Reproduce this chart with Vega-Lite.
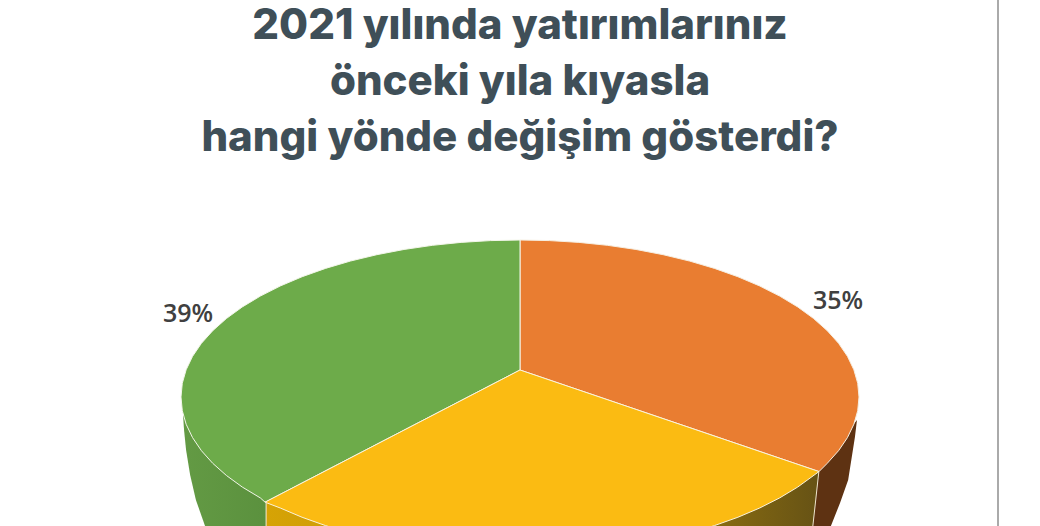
{
"$schema":"https://vega.github.io/schema/vega-lite/v6.json",
"width":1040,"height":526,"padding":0,"autosize":{"type":"none"},
"background":"#ffffff",
"view":{"stroke":null},
"title":{"text":["2021 yılında yatırımlarınız","önceki yıla kıyasla","hangi yönde değişim gösterdi?"],"font":"Inter","fontWeight":800,"fontSize":42,"lineHeight":56,"color":"#3f4f58","anchor":"middle","offset":-161,"baseline":"top"},
"datasets":{
"slices":[
{"part":"orange","i":0,"x":0,"y":0.172},{"part":"orange","i":1,"x":0,"y":1},{"part":"orange","i":2,"x":0.0872,"y":0.9962},{"part":"orange","i":3,"x":0.1736,"y":0.9848},{"part":"orange","i":4,"x":0.2588,"y":0.9659},{"part":"orange","i":5,"x":0.342,"y":0.9397},{"part":"orange","i":6,"x":0.4226,"y":0.9063},{"part":"orange","i":7,"x":0.5,"y":0.866},{"part":"orange","i":8,"x":0.5736,"y":0.8192},{"part":"orange","i":9,"x":0.6428,"y":0.766},{"part":"orange","i":10,"x":0.7071,"y":0.7071},{"part":"orange","i":11,"x":0.766,"y":0.6428},{"part":"orange","i":12,"x":0.8192,"y":0.5736},{"part":"orange","i":13,"x":0.866,"y":0.5},{"part":"orange","i":14,"x":0.9063,"y":0.4226},{"part":"orange","i":15,"x":0.9397,"y":0.342},{"part":"orange","i":16,"x":0.9659,"y":0.2588},{"part":"orange","i":17,"x":0.9848,"y":0.1736},{"part":"orange","i":18,"x":0.9962,"y":0.0872},{"part":"orange","i":19,"x":1,"y":0},{"part":"orange","i":20,"x":0.9962,"y":-0.0872},{"part":"orange","i":21,"x":0.9848,"y":-0.1736},{"part":"orange","i":22,"x":0.9659,"y":-0.2588},{"part":"orange","i":23,"x":0.9397,"y":-0.342},{"part":"orange","i":24,"x":0.9063,"y":-0.4226},{"part":"orange","i":25,"x":0.882,"y":-0.475},{"part":"orange","i":26,"x":0,"y":0.172},
{"part":"green","i":0,"x":0,"y":0.172},{"part":"green","i":1,"x":0,"y":1},{"part":"green","i":2,"x":-0.0872,"y":0.9962},{"part":"green","i":3,"x":-0.1736,"y":0.9848},{"part":"green","i":4,"x":-0.2588,"y":0.9659},{"part":"green","i":5,"x":-0.342,"y":0.9397},{"part":"green","i":6,"x":-0.4226,"y":0.9063},{"part":"green","i":7,"x":-0.5,"y":0.866},{"part":"green","i":8,"x":-0.5736,"y":0.8192},{"part":"green","i":9,"x":-0.6428,"y":0.766},{"part":"green","i":10,"x":-0.7071,"y":0.7071},{"part":"green","i":11,"x":-0.766,"y":0.6428},{"part":"green","i":12,"x":-0.8192,"y":0.5736},{"part":"green","i":13,"x":-0.866,"y":0.5},{"part":"green","i":14,"x":-0.9063,"y":0.4226},{"part":"green","i":15,"x":-0.9397,"y":0.342},{"part":"green","i":16,"x":-0.9659,"y":0.2588},{"part":"green","i":17,"x":-0.9848,"y":0.1736},{"part":"green","i":18,"x":-0.9962,"y":0.0872},{"part":"green","i":19,"x":-1,"y":0},{"part":"green","i":20,"x":-0.9962,"y":-0.0872},{"part":"green","i":21,"x":-0.9848,"y":-0.1736},{"part":"green","i":22,"x":-0.9659,"y":-0.2588},{"part":"green","i":23,"x":-0.9397,"y":-0.342},{"part":"green","i":24,"x":-0.9063,"y":-0.4226},{"part":"green","i":25,"x":-0.866,"y":-0.5},{"part":"green","i":26,"x":-0.8192,"y":-0.5736},{"part":"green","i":27,"x":-0.766,"y":-0.6428},{"part":"green","i":28,"x":-0.752,"y":-0.67},{"part":"green","i":29,"x":0,"y":0.172},
{"part":"yellow","i":0,"x":0,"y":0.172},{"part":"yellow","i":1,"x":0.882,"y":-0.475},{"part":"yellow","i":2,"x":0.8192,"y":-0.5736},{"part":"yellow","i":3,"x":0.766,"y":-0.6428},{"part":"yellow","i":4,"x":0.7071,"y":-0.7071},{"part":"yellow","i":5,"x":0.6428,"y":-0.766},{"part":"yellow","i":6,"x":0.5736,"y":-0.8192},{"part":"yellow","i":7,"x":0.5,"y":-0.866},{"part":"yellow","i":8,"x":0.4226,"y":-0.9063},{"part":"yellow","i":9,"x":0.342,"y":-0.9397},{"part":"yellow","i":10,"x":0.2588,"y":-0.9659},{"part":"yellow","i":11,"x":0.1736,"y":-0.9848},{"part":"yellow","i":12,"x":0.0872,"y":-0.9962},{"part":"yellow","i":13,"x":0,"y":-1},{"part":"yellow","i":14,"x":-0.0872,"y":-0.9962},{"part":"yellow","i":15,"x":-0.1736,"y":-0.9848},{"part":"yellow","i":16,"x":-0.2588,"y":-0.9659},{"part":"yellow","i":17,"x":-0.342,"y":-0.9397},{"part":"yellow","i":18,"x":-0.4226,"y":-0.9063},{"part":"yellow","i":19,"x":-0.5,"y":-0.866},{"part":"yellow","i":20,"x":-0.5736,"y":-0.8192},{"part":"yellow","i":21,"x":-0.6428,"y":-0.766},{"part":"yellow","i":22,"x":-0.7071,"y":-0.7071},{"part":"yellow","i":23,"x":-0.752,"y":-0.67},{"part":"yellow","i":24,"x":0,"y":0.172}
],
"sides":[
{"part":"green","i":0,"x":-0.994,"y":-0.115},{"part":"green","i":1,"x":-0.991,"y":-0.21},{"part":"green","i":2,"x":-0.985,"y":-0.338},{"part":"green","i":3,"x":-0.973,"y":-0.497},{"part":"green","i":4,"x":-0.956,"y":-0.656},{"part":"green","i":5,"x":-0.929,"y":-0.822},{"part":"green","i":6,"x":-0.9,"y":-0.943},{"part":"green","i":7,"x":-0.749,"y":-1.134},{"part":"green","i":8,"x":-0.749,"y":-0.529},
{"part":"orange","i":0,"x":0.994,"y":-0.146},{"part":"orange","i":1,"x":0.988,"y":-0.255},{"part":"orange","i":2,"x":0.968,"y":-0.529},{"part":"orange","i":3,"x":0.944,"y":-0.675},{"part":"orange","i":4,"x":0.917,"y":-0.822},{"part":"orange","i":5,"x":0.885,"y":-0.943},{"part":"orange","i":6,"x":0.848,"y":-1.134},{"part":"orange","i":7,"x":0.879,"y":-0.465},
{"part":"yellow","i":0,"x":-0.749,"y":-0.529},{"part":"yellow","i":1,"x":-0.749,"y":-1.134},{"part":"yellow","i":2,"x":0.848,"y":-1.134},{"part":"yellow","i":3,"x":0.882,"y":-0.465},{"part":"yellow","i":4,"x":-0.749,"y":-0.529}
],
"labels":[{"x":-0.979,"y":0.529,"label":"39%"},{"x":0.938,"y":0.611,"label":"35%"}],
"edge":[{"x":1.41}]
},
"encoding":{
"x":{"field":"x","type":"quantitative","scale":{"domain":[-1.5339,1.5339],"nice":false,"zero":false},"axis":null},
"y":{"field":"y","type":"quantitative","scale":{"domain":[-0.8217,2.5287],"nice":false,"zero":false},"axis":null}
},
"layer":[
{"data":{"name":"edge"},"mark":{"type":"rule","color":"#aaaaaa","strokeWidth":2},"encoding":{"y":{"value":0},"y2":{"value":526}}},
{"data":{"name":"sides"},"transform":[{"filter":"datum.part==='green'"}],"mark":{"type":"line","clip":true,"strokeWidth":0,"fill":{"gradient":"linear","x1":0,"x2":1,"y1":0,"y2":0,"stops":[{"offset":0,"color":"#639a44"},{"offset":1,"color":"#5b913e"}]}},"encoding":{"order":{"field":"i","type":"quantitative"}}},
{"data":{"name":"sides"},"transform":[{"filter":"datum.part==='orange'"}],"mark":{"type":"line","clip":true,"strokeWidth":0,"fill":"#5e3212"},"encoding":{"order":{"field":"i","type":"quantitative"}}},
{"data":{"name":"sides"},"transform":[{"filter":"datum.part==='yellow'"}],"mark":{"type":"line","clip":true,"stroke":"#efe6cf","strokeWidth":1,"fill":{"gradient":"linear","x1":0,"x2":1,"y1":0,"y2":0,"stops":[{"offset":0,"color":"#d6a305"},{"offset":0.12,"color":"#cf9e08"},{"offset":0.8,"color":"#8a6d10"},{"offset":1,"color":"#665215"}]}},"encoding":{"order":{"field":"i","type":"quantitative"}}},
{"data":{"name":"slices"},"transform":[{"filter":"datum.part==='orange'"}],"mark":{"type":"line","clip":true,"stroke":"#f6efe2","strokeWidth":1,"fill":"#e97d31"},"encoding":{"order":{"field":"i","type":"quantitative"}}},
{"data":{"name":"slices"},"transform":[{"filter":"datum.part==='green'"}],"mark":{"type":"line","clip":true,"stroke":"#f3f6ea","strokeWidth":1,"fill":"#6dab4a"},"encoding":{"order":{"field":"i","type":"quantitative"}}},
{"data":{"name":"slices"},"transform":[{"filter":"datum.part==='yellow'"}],"mark":{"type":"line","clip":true,"stroke":"#fbf3dc","strokeWidth":1,"fill":"#fbbb12"},"encoding":{"order":{"field":"i","type":"quantitative"}}},
{"data":{"name":"labels"},"mark":{"type":"text","font":"Open Sans","fontWeight":600,"fontSize":25,"color":"#404040","align":"center","baseline":"middle"},"encoding":{"text":{"field":"label","type":"nominal"}}}
]
}
